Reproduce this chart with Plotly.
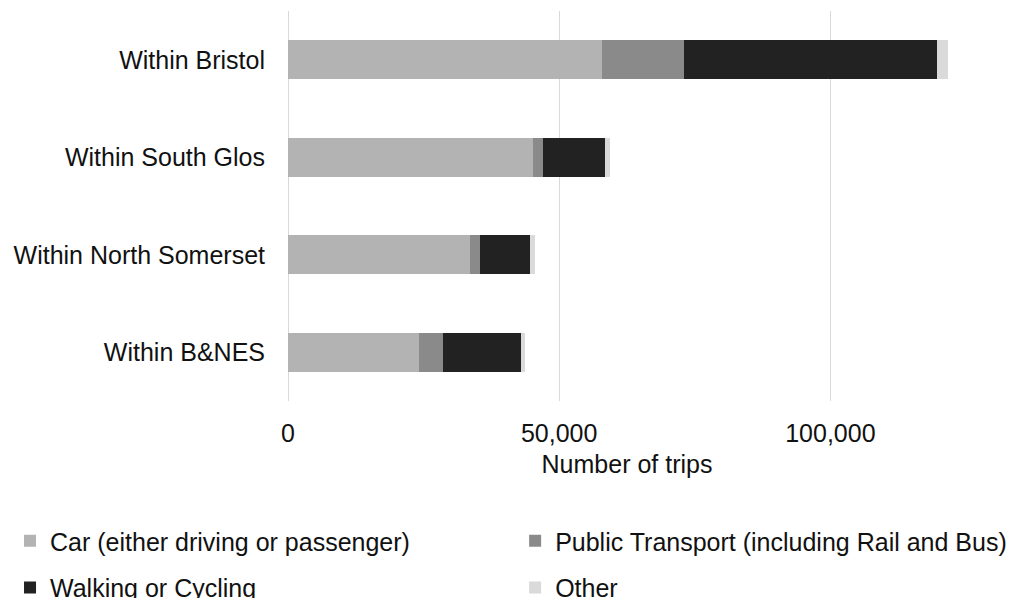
import plotly.graph_objects as go

# Trips by mode within each area
areas = ["Within Bristol", "Within South Glos", "Within North Somerset", "Within B&NES"]
car = [57800, 45100, 33600, 24200]
public_transport = [15300, 2000, 1800, 4300]
walking_cycling = [46600, 11400, 9300, 14500]
other = [2000, 900, 800, 700]

series = [
    ("Car (either driving or passenger)", car, "#b3b3b3"),
    ("Public Transport (including Rail and Bus)", public_transport, "#8a8a8a"),
    ("Walking or Cycling", walking_cycling, "#222222"),
    ("Other", other, "#dadada"),
]

# one legend box per entry, laid out as a 2 x 2 grid under the axis
legend_ids = ["legend", "legend2", "legend3", "legend4"]
legend_pos = [(-0.41, -0.359), (0.335, -0.359), (-0.41, -0.479), (0.335, -0.479)]

fig = go.Figure()
for (name, values, colour), lid in zip(series, legend_ids):
    fig.add_trace(go.Bar(
        y=areas, x=values, name=name, orientation="h", legend=lid,
        showlegend=True,
        marker=dict(color=colour, line=dict(width=0)),
    ))

font_family = "Liberation Sans, Arial, sans-serif"
text_colour = "#111111"
layout_legends = {}
for lid, (lx, ly) in zip(legend_ids, legend_pos):
    layout_legends[lid] = dict(
        x=lx, xanchor="left", y=ly, yanchor="middle",
        orientation="h", font=dict(size=25, color=text_colour),
        itemwidth=30, bgcolor="rgba(0,0,0,0)", visible=True,
    )

fig.update_layout(
    showlegend=True,
    barmode="stack",
    bargap=0.6,
    width=1016, height=598,
    margin=dict(l=288, r=50, t=11, b=197, autoexpand=False),
    paper_bgcolor="white", plot_bgcolor="white",
    font=dict(family=font_family, size=25, color=text_colour),
    xaxis=dict(
        range=[0, 125000], tickvals=[0, 50000, 100000],
        ticktext=["0", "50,000", "100,000"],
        showgrid=True, gridcolor="#d9d9d9", gridwidth=1,
        zeroline=True, zerolinecolor="#d9d9d9", zerolinewidth=1,
        showline=False, ticks="", ticklabelstandoff=15,
        title=dict(text="Number of trips", standoff=9, font=dict(size=25)),
    ),
    yaxis=dict(
        autorange="reversed", showgrid=False, showline=False, ticks="",
        ticklabelstandoff=22,
    ),
    **layout_legends,
)

fig.write_html("out.html")
